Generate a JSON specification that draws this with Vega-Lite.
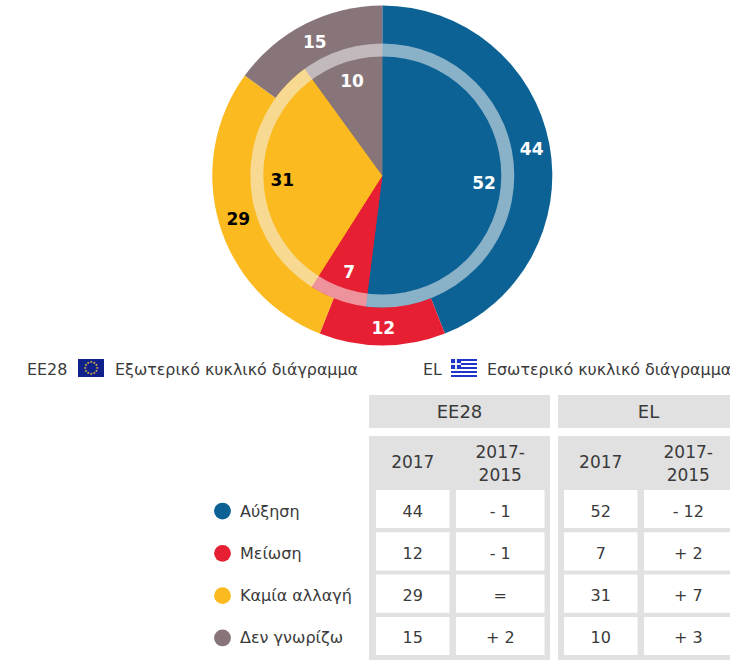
{
"$schema":"https://vega.github.io/schema/vega-lite/v6.json",
"width":730,"height":664,"padding":0,"autosize":{"type":"none"},"background":"white",
"config":{"view":{"stroke":null},"axis":{"disable":true},"legend":{"disable":true},"text":{"font":"DejaVu Sans"}},
"datasets":{
"shares":[
{"ring":"outer","category":"Αύξηση","share":44,"rank":1},
{"ring":"outer","category":"Μείωση","share":12,"rank":2},
{"ring":"outer","category":"Καμία αλλαγή","share":29,"rank":3},
{"ring":"outer","category":"Δεν γνωρίζω","share":15,"rank":4},
{"ring":"inner","category":"Αύξηση","share":52,"rank":1},
{"ring":"inner","category":"Μείωση","share":7,"rank":2},
{"ring":"inner","category":"Καμία αλλαγή","share":31,"rank":3},
{"ring":"inner","category":"Δεν γνωρίζω","share":10,"rank":4}],
"table":[
{"group":"EE28","category":"Αύξηση","measure":"2017","label":"44"},
{"group":"EE28","category":"Αύξηση","measure":"change","label":"- 1"},
{"group":"EE28","category":"Μείωση","measure":"2017","label":"12"},
{"group":"EE28","category":"Μείωση","measure":"change","label":"- 1"},
{"group":"EE28","category":"Καμία αλλαγή","measure":"2017","label":"29"},
{"group":"EE28","category":"Καμία αλλαγή","measure":"change","label":"="},
{"group":"EE28","category":"Δεν γνωρίζω","measure":"2017","label":"15"},
{"group":"EE28","category":"Δεν γνωρίζω","measure":"change","label":"+ 2"},
{"group":"EL","category":"Αύξηση","measure":"2017","label":"52"},
{"group":"EL","category":"Αύξηση","measure":"change","label":"- 12"},
{"group":"EL","category":"Μείωση","measure":"2017","label":"7"},
{"group":"EL","category":"Μείωση","measure":"change","label":"+ 2"},
{"group":"EL","category":"Καμία αλλαγή","measure":"2017","label":"31"},
{"group":"EL","category":"Καμία αλλαγή","measure":"change","label":"+ 7"},
{"group":"EL","category":"Δεν γνωρίζω","measure":"2017","label":"10"},
{"group":"EL","category":"Δεν γνωρίζω","measure":"change","label":"+ 3"}],
"groups":[{"group":"EE28"},{"group":"EL"}],
"subheads":[
{"group":"EE28","measure":"2017","label":"2017"},
{"group":"EE28","measure":"change","label":"2017-\n2015"},
{"group":"EL","measure":"2017","label":"2017"},
{"group":"EL","measure":"change","label":"2017-\n2015"}],
"key":[{"category":"Αύξηση"},{"category":"Μείωση"},{"category":"Καμία αλλαγή"},{"category":"Δεν γνωρίζω"}],
"captions":[{"slot":1,"caption":"EE28"},{"slot":2,"caption":"Εξωτερικό κυκλικό διάγραμμα"},{"slot":3,"caption":"EL"},{"slot":4,"caption":"Εσωτερικό κυκλικό διάγραμμα"}],
"stars":[{"star":0},{"star":1},{"star":2},{"star":3},{"star":4},{"star":5},{"star":6},{"star":7},{"star":8},{"star":9},{"star":10},{"star":11}],
"stripes":[{"stripe":1},{"stripe":3},{"stripe":5},{"stripe":7},{"stripe":9}],
"quadrants":[{"qx":"left","qy":"top"},{"qx":"right","qy":"top"},{"qx":"left","qy":"bottom"},{"qx":"right","qy":"bottom"}]
},
"layer":[
{"data":{"name":"shares"},"transform":[{"filter":"datum.ring==='outer'"}],
 "mark":{"type":"arc","radius":170},
 "encoding":{
  "x":{"datum":"pie","type":"nominal","scale":{"type":"band","domain":["pie"],"range":[212.3,552.3]}},
  "y":{"datum":"pie","type":"nominal","scale":{"type":"band","domain":["pie"],"range":[5.5,345.5]}},
  "theta":{"field":"share","type":"quantitative","stack":true,"scale":{"domain":[0,100]}},
  "order":{"field":"rank","type":"ordinal"},
  "color":{"field":"category","type":"nominal","scale":{"domain":["Αύξηση","Μείωση","Καμία αλλαγή","Δεν γνωρίζω"],"range":["#0c6295","#e61f33","#fbba1f","#87757a"]}}}},
{"data":{"name":"shares"},"transform":[{"filter":"datum.ring==='inner'"}],
 "mark":{"type":"arc","radius":132},
 "encoding":{
  "x":{"datum":"pie","type":"nominal","scale":{"type":"band","domain":["pie"],"range":[212.3,552.3]}},
  "y":{"datum":"pie","type":"nominal","scale":{"type":"band","domain":["pie"],"range":[5.5,345.5]}},
  "theta":{"field":"share","type":"quantitative","stack":true,"scale":{"domain":[0,100]}},
  "order":{"field":"rank","type":"ordinal"},
  "color":{"field":"category","type":"nominal","scale":{"domain":["Αύξηση","Μείωση","Καμία αλλαγή","Δεν γνωρίζω"],"range":["#0c6295","#e61f33","#fbba1f","#87757a"]}}}},
{"data":{"values":[{"ring":"rim"}]},
 "mark":{"type":"arc","radius":132,"radius2":119,"theta":0,"theta2":6.2832,"fill":"#f4f4f4","opacity":0.54},
 "encoding":{
  "x":{"datum":"pie","type":"nominal","scale":{"type":"band","domain":["pie"],"range":[212.3,552.3]}},
  "y":{"datum":"pie","type":"nominal","scale":{"type":"band","domain":["pie"],"range":[5.5,345.5]}}}},
{"data":{"name":"shares"},"transform":[{"filter":"datum.ring==='outer'"}],
 "mark":{"type":"text","radius":151,"fontSize":17,"fontWeight":"bold","baseline":"middle","dx":1,"dy":2.5},
 "encoding":{
  "x":{"datum":"pie","type":"nominal","scale":{"type":"band","domain":["pie"],"range":[212.3,552.3]}},
  "y":{"datum":"pie","type":"nominal","scale":{"type":"band","domain":["pie"],"range":[5.5,345.5]}},
  "theta":{"field":"share","type":"quantitative","stack":true,"scale":{"domain":[0,100]}},
  "order":{"field":"rank","type":"ordinal"},
  "detail":{"field":"category"},
  "text":{"field":"share","type":"quantitative"},
  "color":{"condition":{"test":"datum.category==='Καμία αλλαγή'","value":"#000000"},"value":"#ffffff"}}},
{"data":{"name":"shares"},"transform":[{"filter":"datum.ring==='inner'"}],
 "mark":{"type":"text","radius":101,"fontSize":17,"fontWeight":"bold","baseline":"middle","dx":1,"dy":2.5},
 "encoding":{
  "x":{"datum":"pie","type":"nominal","scale":{"type":"band","domain":["pie"],"range":[212.3,552.3]}},
  "y":{"datum":"pie","type":"nominal","scale":{"type":"band","domain":["pie"],"range":[5.5,345.5]}},
  "theta":{"field":"share","type":"quantitative","stack":true,"scale":{"domain":[0,100]}},
  "order":{"field":"rank","type":"ordinal"},
  "detail":{"field":"category"},
  "text":{"field":"share","type":"quantitative"},
  "color":{"condition":{"test":"datum.category==='Καμία αλλαγή'","value":"#000000"},"value":"#ffffff"}}},
{"data":{"name":"captions"},
 "mark":{"type":"text","align":"left","baseline":"middle","fontSize":15.9,"color":"#3a3a3a"},
 "encoding":{
  "x":{"field":"slot","type":"quantitative","scale":{"domain":[1,2,3,4],"range":[27,115,423,487]}},
  "y":{"datum":"captions","type":"nominal","scale":{"type":"band","domain":["captions"],"range":[360,380]}},
  "text":{"field":"caption"}}},
{"data":{"values":[{"flag":"EU"}]},
 "mark":{"type":"rect","fill":"#10218b"},
 "encoding":{
  "x":{"field":"flag","type":"nominal","scale":{"type":"band","domain":["EU"],"range":[78,104],"paddingInner":0,"paddingOuter":0}},
  "y":{"field":"flag","type":"nominal","scale":{"type":"band","domain":["EU"],"range":[359,377],"paddingInner":0,"paddingOuter":0}}}},
{"data":{"name":"stars"},
 "mark":{"type":"text","text":"★","radius":6,"fontSize":3.5,"color":"#f5d21f","baseline":"middle"},
 "encoding":{
  "x":{"datum":"EU","type":"nominal","scale":{"type":"band","domain":["EU"],"range":[78,104]}},
  "y":{"datum":"EU","type":"nominal","scale":{"type":"band","domain":["EU"],"range":[359,377]}},
  "theta":{"field":"star","type":"quantitative","stack":null,"scale":{"domain":[0,12],"range":[0,6.2832]}}}},
{"data":{"name":"stripes"},
 "mark":{"type":"rect","fill":"#1f35c8"},
 "encoding":{
  "x":{"datum":"EL","type":"nominal","scale":{"type":"band","domain":["EL"],"range":[451,477],"paddingInner":0,"paddingOuter":0}},
  "y":{"field":"stripe","type":"nominal","scale":{"type":"band","domain":[1,2,3,4,5,6,7,8,9],"range":[359,377],"paddingInner":0,"paddingOuter":0}}}},
{"data":{"values":[{"canton":"EL"}]},
 "mark":{"type":"rect","fill":"white"},
 "encoding":{
  "x":{"field":"canton","type":"nominal","scale":{"type":"band","domain":["EL"],"range":[451,461],"paddingInner":0,"paddingOuter":0}},
  "y":{"field":"canton","type":"nominal","scale":{"type":"band","domain":["EL"],"range":[359,369],"paddingInner":0,"paddingOuter":0}}}},
{"data":{"name":"quadrants"},
 "mark":{"type":"rect","fill":"#1f35c8"},
 "encoding":{
  "x":{"field":"qx","type":"nominal","scale":{"type":"band","domain":["left","right"],"range":[451,461],"paddingInner":0.3,"paddingOuter":0}},
  "y":{"field":"qy","type":"nominal","scale":{"type":"band","domain":["top","bottom"],"range":[359,369],"paddingInner":0.3,"paddingOuter":0}}}},
{"data":{"name":"groups"},
 "mark":{"type":"rect","fill":"#e1e1e1"},
 "encoding":{
  "x":{"field":"group","type":"nominal","scale":{"type":"band","domain":["EE28","EL"],"range":[369,739],"paddingInner":0.0423,"paddingOuter":0}},
  "y":{"datum":"title","type":"nominal","scale":{"type":"band","domain":["title"],"range":[395,428],"paddingInner":0,"paddingOuter":0}}}},
{"data":{"name":"groups"},
 "mark":{"type":"rect","fill":"#e1e1e1"},
 "encoding":{
  "x":{"field":"group","type":"nominal","scale":{"type":"band","domain":["EE28","EL"],"range":[369,739],"paddingInner":0.0423,"paddingOuter":0}},
  "y":{"datum":"body","type":"nominal","scale":{"type":"band","domain":["body"],"range":[436,660],"paddingInner":0,"paddingOuter":0}}}},
{"data":{"name":"groups"},
 "mark":{"type":"text","fontSize":18,"color":"#3a3a3a","baseline":"middle","align":"center","dy":1.5},
 "encoding":{
  "x":{"field":"group","type":"nominal","scale":{"type":"band","domain":["EE28","EL"],"range":[369,739],"paddingInner":0.0423,"paddingOuter":0}},
  "y":{"datum":"title","type":"nominal","scale":{"type":"band","domain":["title"],"range":[395,428],"paddingInner":0,"paddingOuter":0}},
  "text":{"field":"group"}}},
{"data":{"name":"table"},"transform":[{"filter":"datum.measure==='2017'"}],
 "mark":{"type":"rect","fill":"white"},
 "encoding":{
  "x":{"field":"group","type":"nominal","scale":{"type":"band","domain":["EE28","EL"],"range":[376,637.5],"paddingInner":0.609,"paddingOuter":0}},
  "y":{"field":"category","type":"nominal","scale":{"type":"band","domain":["Αύξηση","Μείωση","Καμία αλλαγή","Δεν γνωρίζω"],"range":[490,655],"paddingInner":0.1,"paddingOuter":0}}}},
{"data":{"name":"table"},"transform":[{"filter":"datum.measure==='change'"}],
 "mark":{"type":"rect","fill":"white"},
 "encoding":{
  "x":{"field":"group","type":"nominal","scale":{"type":"band","domain":["EE28","EL"],"range":[456,732.5],"paddingInner":0.5293,"paddingOuter":0}},
  "y":{"field":"category","type":"nominal","scale":{"type":"band","domain":["Αύξηση","Μείωση","Καμία αλλαγή","Δεν γνωρίζω"],"range":[490,655],"paddingInner":0.1,"paddingOuter":0}}}},
{"data":{"name":"table"},"transform":[{"filter":"datum.measure==='2017'"}],
 "mark":{"type":"text","fontSize":16,"color":"#3a3a3a","baseline":"middle","align":"center","dy":2.5},
 "encoding":{
  "x":{"field":"group","type":"nominal","scale":{"type":"band","domain":["EE28","EL"],"range":[376,637.5],"paddingInner":0.609,"paddingOuter":0}},
  "y":{"field":"category","type":"nominal","scale":{"type":"band","domain":["Αύξηση","Μείωση","Καμία αλλαγή","Δεν γνωρίζω"],"range":[490,655],"paddingInner":0.1,"paddingOuter":0}},
  "text":{"field":"label"}}},
{"data":{"name":"table"},"transform":[{"filter":"datum.measure==='change'"}],
 "mark":{"type":"text","fontSize":16,"color":"#3a3a3a","baseline":"middle","align":"center","dy":2.5},
 "encoding":{
  "x":{"field":"group","type":"nominal","scale":{"type":"band","domain":["EE28","EL"],"range":[456,732.5],"paddingInner":0.5293,"paddingOuter":0}},
  "y":{"field":"category","type":"nominal","scale":{"type":"band","domain":["Αύξηση","Μείωση","Καμία αλλαγή","Δεν γνωρίζω"],"range":[490,655],"paddingInner":0.1,"paddingOuter":0}},
  "text":{"field":"label"}}},
{"data":{"name":"subheads"},"transform":[{"filter":"datum.measure==='2017'"}],
 "mark":{"type":"text","fontSize":17,"color":"#3a3a3a","baseline":"middle","align":"center"},
 "encoding":{
  "x":{"field":"group","type":"nominal","scale":{"type":"band","domain":["EE28","EL"],"range":[376,637.5],"paddingInner":0.609,"paddingOuter":0}},
  "y":{"datum":"sub","type":"nominal","scale":{"type":"band","domain":["sub"],"range":[436,489],"paddingInner":0,"paddingOuter":0}},
  "text":{"field":"label"}}},
{"data":{"name":"subheads"},"transform":[{"filter":"datum.measure==='change'"}],
 "mark":{"type":"text","fontSize":17,"color":"#3a3a3a","baseline":"middle","align":"center","lineBreak":"\n","lineHeight":23,"dy":-10},
 "encoding":{
  "x":{"field":"group","type":"nominal","scale":{"type":"band","domain":["EE28","EL"],"range":[456,732.5],"paddingInner":0.5293,"paddingOuter":0}},
  "y":{"datum":"sub","type":"nominal","scale":{"type":"band","domain":["sub"],"range":[436,489],"paddingInner":0,"paddingOuter":0}},
  "text":{"field":"label"}}},
{"data":{"name":"key"},
 "mark":{"type":"circle","size":283,"opacity":1},
 "encoding":{
  "x":{"datum":"key","type":"nominal","scale":{"type":"band","domain":["key"],"range":[212,233]}},
  "y":{"field":"category","type":"nominal","scale":{"type":"band","domain":["Αύξηση","Μείωση","Καμία αλλαγή","Δεν γνωρίζω"],"range":[492,657],"paddingInner":0.1,"paddingOuter":0}},
  "color":{"field":"category","type":"nominal","scale":{"domain":["Αύξηση","Μείωση","Καμία αλλαγή","Δεν γνωρίζω"],"range":["#0c6295","#e61f33","#fbba1f","#87757a"]}}}},
{"data":{"name":"key"},
 "mark":{"type":"text","align":"left","baseline":"middle","fontSize":16,"color":"#3a3a3a","dy":2.5},
 "encoding":{
  "x":{"datum":"key","type":"nominal","bandPosition":0,"scale":{"type":"band","domain":["key"],"range":[240,360],"paddingInner":0,"paddingOuter":0}},
  "y":{"field":"category","type":"nominal","scale":{"type":"band","domain":["Αύξηση","Μείωση","Καμία αλλαγή","Δεν γνωρίζω"],"range":[490,655],"paddingInner":0.1,"paddingOuter":0}},
  "text":{"field":"category"}}}
],
"resolve":{"scale":{"x":"independent","y":"independent","theta":"independent","color":"independent"}}
}
